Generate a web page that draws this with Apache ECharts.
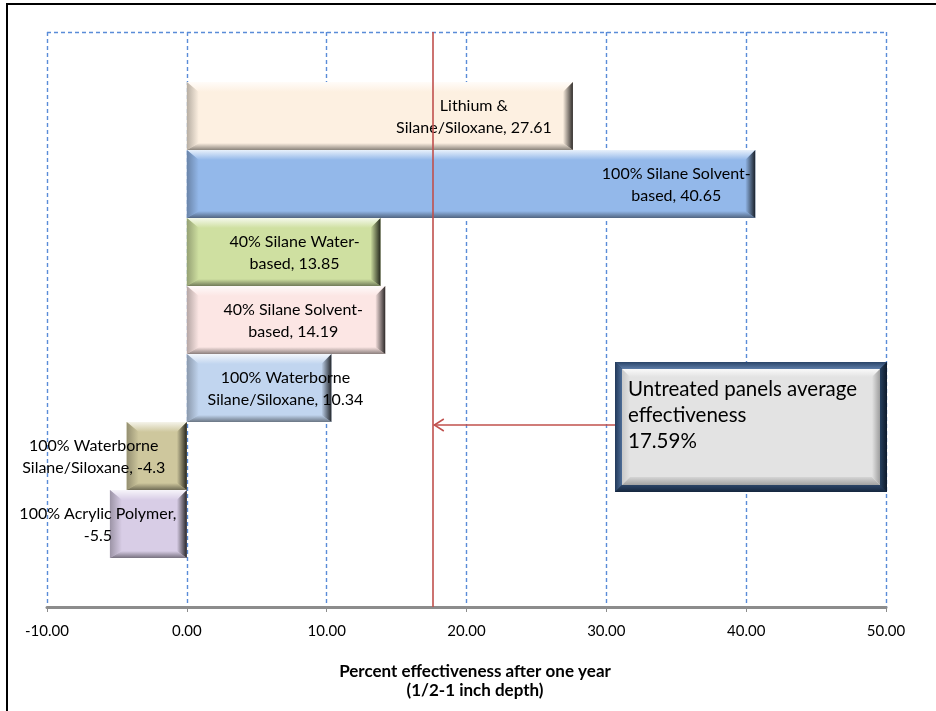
<!DOCTYPE html>
<html>
<head>
<meta charset="utf-8">
<script src="https://cdn.jsdelivr.net/npm/echarts@6/dist/echarts.min.js"></script>
<style>
  html, body { margin: 0; padding: 0; background: #ffffff; }
  #chart { width: 936px; height: 711px; }
</style>
</head>
<body>
<div id="chart"></div>
<script>
// Sealer products, top to bottom, and their effectiveness after one year (%)
const categories = [
  'Lithium &\nSilane/Siloxane',
  '100% Silane Solvent-\nbased',
  '40% Silane Water-\nbased',
  '40% Silane Solvent-\nbased',
  '100% Waterborne\nSilane/Siloxane',
  '100% Waterborne\nSilane/Siloxane',
  '100% Acrylic Polymer'
];
const values = [27.61, 40.65, 13.85, 14.19, 10.34, -4.3, -5.5];

// Value axis range and tick step
const axisMin = -10;
const axisMax = 50;
const axisStep = 10;

// Reference value for untreated panels
const untreatedAverage = 17.59;
const calloutText = ['Untreated panels average', 'effectiveness', untreatedAverage.toFixed(2) + '%'];
const axisTitle = ['Percent effectiveness after one year', '(1/2-1 inch depth)'];

// ---- styling ----
const FONT = 'Lato, "Open Sans", "Liberation Sans", sans-serif';
const barColors = ['#FDF0E1', '#93B8EA', '#CFE0A1', '#FCE6E4', '#C1D5EF', '#CEC79D', '#D8CDE6'];
// horizontal shift of each bar's label centre from the bar's value end (px)
const labelShift = [-99, -79, -86, -92, -46, -33, -12];

function hexToRgb(h) {
  h = h.replace('#', '');
  return [parseInt(h.slice(0, 2), 16), parseInt(h.slice(2, 4), 16), parseInt(h.slice(4, 6), 16)];
}
function mix(c, target, t) {
  const a = hexToRgb(c), b = hexToRgb(target);
  const r = a.map((v, k) => Math.round(v + (b[k] - v) * t));
  return 'rgb(' + r.join(',') + ')';
}
function grad(x0, y0, x1, y1, c0, c1) {
  return new echarts.graphic.LinearGradient(x0, y0, x1, y1, [
    { offset: 0, color: c0 }, { offset: 1, color: c1 }
  ]);
}
function labelText(name, v) {
  return name.indexOf('\n') >= 0 ? name + ', ' + v : name + ',\n' + v;
}

// Bevelled bar drawn from the axis scales
function renderBar(params, api) {
  const i = params.dataIndex;
  const v = api.value(0);
  const cat = api.value(1);
  const pz = api.coord([0, cat]);
  const pv = api.coord([v, cat]);
  const band = api.size([0, 1])[1];
  const L = Math.min(pz[0], pv[0]);
  const R = Math.max(pz[0], pv[0]);
  const T = pz[1] - band / 2;
  const B = pz[1] + band / 2;
  const c = barColors[i];
  const bl = Math.min(12, (R - L) / 2), br = Math.min(10, (R - L) / 2);
  const bt = 10, bb = 7;
  const Li = L + bl, Ri = R - br, Ti = T + bt, Bi = B - bb;
  return {
    type: 'group',
    children: [
      { type: 'rect', shape: { x: L, y: T, width: R - L, height: B - T }, style: { fill: c } },
      { type: 'polygon', shape: { points: [[L, T], [R, T], [Ri, Ti], [Li, Ti]] },
        style: { fill: grad(0, 0, 0, 1, mix(c, '#ffffff', 0.8), c) } },
      { type: 'polygon', shape: { points: [[L, T], [Li, Ti], [Li, Bi], [L, B]] },
        style: { fill: grad(0, 0, 1, 0, mix(c, '#000000', 0.28), c) } },
      { type: 'polygon', shape: { points: [[L, B], [Li, Bi], [Ri, Bi], [R, B]] },
        style: { fill: grad(0, 0, 0, 1, c, mix(c, '#000000', 0.45)) } },
      { type: 'polygon', shape: { points: [[R, T], [R, B], [Ri, Bi], [Ri, Ti]] },
        style: { fill: grad(1, 0, 0, 0, mix(c, '#000000', 0.82), c) } },
      { type: 'text', z2: 50,
        style: {
          text: labelText(categories[i], v),
          x: pv[0] + labelShift[i], y: pz[1] + 1,
          align: 'center', verticalAlign: 'middle',
          font: '16px ' + FONT, lineHeight: 22.5, fill: '#000000'
        } }
    ]
  };
}

const dashBlue = { color: '#5A8CD8', width: 1.4, type: [4, 3] };

const chart = echarts.init(document.getElementById('chart'));

chart.setOption({
  animation: false,
  backgroundColor: '#ffffff',
  grid: [
    { left: 47, right: 50, top: 32, bottom: 104 },
    { left: 47, right: 50, top: 82, bottom: 153 }
  ],
  xAxis: [
    {
      gridIndex: 0, type: 'value', min: axisMin, max: axisMax, interval: axisStep,
      axisLine: { show: true, lineStyle: { color: '#8C8C8C', width: 3 } },
      axisTick: { show: true, length: 5, lineStyle: { color: '#8C8C8C', width: 1 } },
      axisLabel: { color: '#000000', fontFamily: FONT, fontSize: 15, margin: 17,
                   formatter: v => v.toFixed(2) },
      splitLine: { show: true, lineStyle: dashBlue }
    },
    {
      gridIndex: 1, type: 'value', min: axisMin, max: axisMax, interval: axisStep,
      show: false
    }
  ],
  yAxis: [
    {
      gridIndex: 0, type: 'value', min: 0, max: 1, interval: 1,
      axisLine: { show: false }, axisTick: { show: false }, axisLabel: { show: false },
      splitLine: { show: true, lineStyle: dashBlue }
    },
    {
      gridIndex: 1, type: 'category', data: categories, inverse: true, show: false,
      boundaryGap: true
    }
  ],
  series: [
    {
      type: 'scatter', xAxisIndex: 0, yAxisIndex: 0, data: [], silent: true,
      markLine: {
        silent: true, symbol: ['none', 'none'], animation: false,
        label: { show: false },
        lineStyle: { color: '#C0504D', width: 1.6, type: 'solid' },
        data: [{ xAxis: untreatedAverage }]
      }
    },
    {
      type: 'custom', xAxisIndex: 1, yAxisIndex: 1,
      renderItem: renderBar,
      encode: { x: 0, y: 1 },
      data: values.map((v, i) => [v, i])
    }
  ]
});

// Callout box, arrow to the reference line, axis title and frame
const lineX = chart.convertToPixel({ xAxisIndex: 0 }, untreatedAverage);
const bx = 615, by = 362, bw = 272, bh = 130, f = 7;
const fx = bx + f, fy = by + f, fw = bw - 2 * f, fh = bh - 2 * f, g = 8;
const arrowY = 425;

chart.setOption({
  graphic: [
    { type: 'polyline', shape: { points: [[7, 711], [7, 4], [936, 4]] },
      style: { stroke: '#000000', lineWidth: 2, fill: null } },
    { type: 'line', shape: { x1: bx, y1: arrowY, x2: lineX + 1, y2: arrowY },
      style: { stroke: '#C0504D', lineWidth: 1.5 } },
    { type: 'polyline', shape: { points: [[lineX + 11, arrowY - 6], [lineX + 1.5, arrowY], [lineX + 11, arrowY + 6]] },
      style: { stroke: '#C0504D', lineWidth: 1.5, fill: null } },
    { type: 'rect', shape: { x: bx, y: by, width: bw, height: bh }, style: { fill: '#1E3656' } },
    { type: 'polygon', shape: { points: [[bx, by], [bx + bw, by], [fx + fw, fy], [fx, fy]] },
      style: { fill: grad(0, 0, 0, 1, '#2A4468', '#5E7DA8') } },
    { type: 'polygon', shape: { points: [[bx, by], [fx, fy], [fx, fy + fh], [bx, by + bh]] },
      style: { fill: grad(0, 0, 1, 0, '#22395A', '#4D6C96') } },
    { type: 'polygon', shape: { points: [[bx, by + bh], [fx, fy + fh], [fx + fw, fy + fh], [bx + bw, by + bh]] },
      style: { fill: grad(0, 0, 0, 1, '#2B4466', '#15263E') } },
    { type: 'polygon', shape: { points: [[bx + bw, by], [bx + bw, by + bh], [fx + fw, fy + fh], [fx + fw, fy]] },
      style: { fill: grad(1, 0, 0, 0, '#0E1A2B', '#26405F') } },
    { type: 'rect', shape: { x: fx, y: fy, width: fw, height: fh }, style: { fill: '#E3E3E3' } },
    { type: 'polygon', shape: { points: [[fx, fy], [fx + fw, fy], [fx + fw - g, fy + g], [fx + g, fy + g]] },
      style: { fill: grad(0, 0, 0, 1, '#FAFAFA', '#E3E3E3') } },
    { type: 'polygon', shape: { points: [[fx, fy], [fx + g, fy + g], [fx + g, fy + fh - g], [fx, fy + fh]] },
      style: { fill: grad(0, 0, 1, 0, '#C9C9C9', '#E3E3E3') } },
    { type: 'polygon', shape: { points: [[fx, fy + fh], [fx + g, fy + fh - g], [fx + fw - g, fy + fh - g], [fx + fw, fy + fh]] },
      style: { fill: grad(0, 0, 0, 1, '#D5D5D5', '#A2A2A2') } },
    { type: 'polygon', shape: { points: [[fx + fw, fy], [fx + fw, fy + fh], [fx + fw - g, fy + fh - g], [fx + fw - g, fy + g]] },
      style: { fill: grad(1, 0, 0, 0, '#9E9E9E', '#E3E3E3') } },
    { type: 'text', z: 10,
      style: { text: calloutText.join('\n'), x: 628, y: 415.5, align: 'left', verticalAlign: 'middle',
               font: '20.5px ' + FONT, lineHeight: 26, fill: '#000000' } },
    { type: 'text',
      style: { text: axisTitle.join('\n'), x: 475, y: 681, align: 'center', verticalAlign: 'middle',
               font: 'bold 17px ' + FONT, lineHeight: 19, fill: '#000000' } }
  ]
});
</script>
</body>
</html>
